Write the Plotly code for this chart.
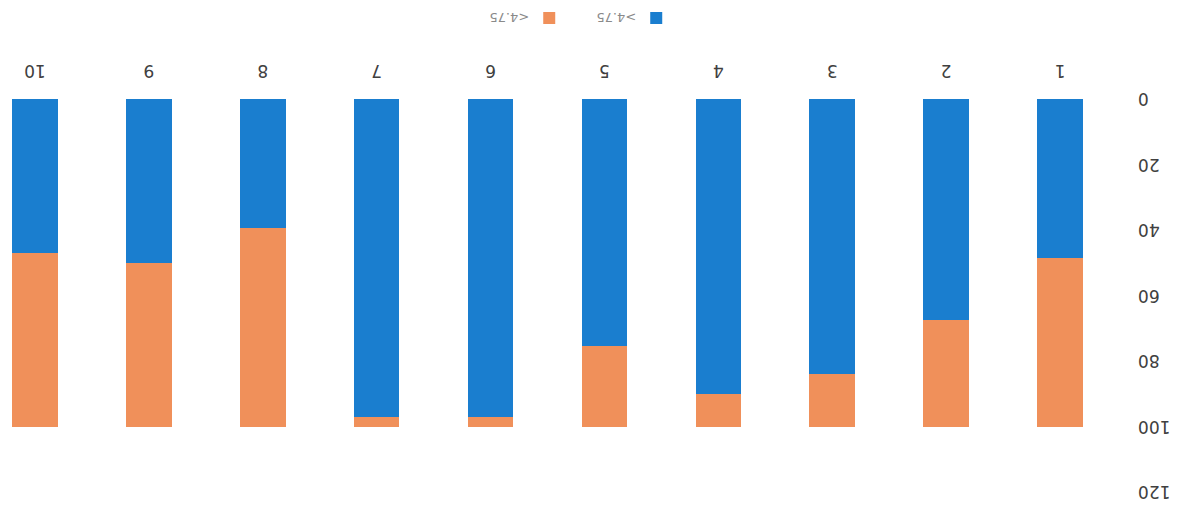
import plotly.graph_objects as go

# Share of each group above / below the 4.75 threshold (percent)
categories = ["1", "2", "3", "4", "5", "6", "7", "8", "9", "10"]
above_475 = [48.5, 67.5, 84.0, 90.0, 75.5, 97.0, 97.0, 39.5, 50.0, 47.0]
below_475 = [100 - v for v in above_475]
y_ticks = [0, 20, 40, 60, 80, 100, 120]

BLUE = "#1a7ecf"
ORANGE = "#f0905a"
TEXT = "#404040"

fig = go.Figure()
fig.add_trace(go.Bar(x=categories, y=above_475, name=">4.75",
                     marker=dict(color=BLUE, line=dict(width=0))))
fig.add_trace(go.Bar(x=categories, y=below_475, name="<4.75",
                     marker=dict(color=ORANGE, line=dict(width=0))))

fig.update_layout(
    barmode="stack",
    bargap=0.6,
    width=1183,
    height=512,
    margin=dict(l=66, r=0, t=20, b=99),
    paper_bgcolor="white",
    plot_bgcolor="white",
    font=dict(family="DejaVu Sans", size=15, color=TEXT),
    showlegend=True,
    legend=dict(
        orientation="h",
        traceorder="normal",
        x=0.3946, xanchor="left",
        y=-0.206, yanchor="middle",
        entrywidth=62,
        font=dict(size=13, color="#8a8a8a"),
        bgcolor="rgba(0,0,0,0)",
    ),
    xaxis=dict(
        type="category",
        range=[-0.5, 9.307],
        showgrid=False,
        showline=False,
        zeroline=False,
        ticks="",
        ticklabelstandoff=16,
        tickfont=dict(size=17, color=TEXT),
    ),
    yaxis=dict(
        range=[0, 120],
        tickvals=y_ticks,
        ticktext=[str(v) for v in y_ticks],
        showgrid=False,
        showline=False,
        zeroline=False,
        ticks="",
        ticklabelstandoff=20,
        tickfont=dict(size=17, color=TEXT),
    ),
)

# The chart is presented turned half a revolution
fig.write_html(
    "out.html",
    default_width="1183px",
    default_height="512px",
    post_script=(
        "var gd = document.getElementById('{plot_id}');"
        "gd.style.transformOrigin = '50% 50%';"
        "gd.style.transform = 'rotate(180deg)';"
    ),
)
